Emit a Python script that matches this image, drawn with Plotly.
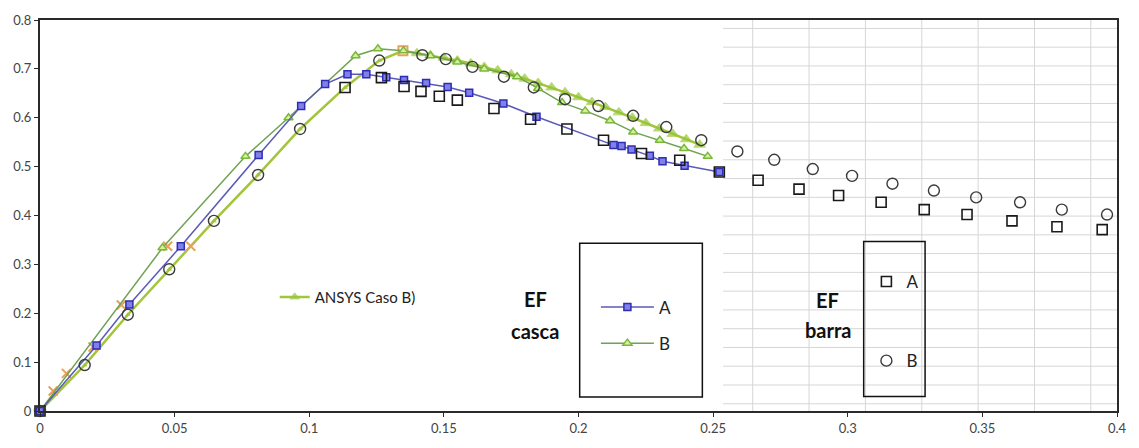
import plotly.graph_objects as go
import numpy as np

# ---------------- data ----------------
casca_A_x = [0, 0.021, 0.0332, 0.0523, 0.0812, 0.097, 0.1059, 0.1142, 0.1212, 0.1286, 0.1352,
             0.1434, 0.1514, 0.1594, 0.1721, 0.1844, 0.213, 0.216, 0.2197, 0.2265, 0.2312, 0.2394, 0.2523]
casca_A_y = [0, 0.134, 0.218, 0.337, 0.524, 0.624, 0.669, 0.689, 0.689, 0.683, 0.677,
             0.671, 0.663, 0.651, 0.629, 0.602, 0.544, 0.542, 0.535, 0.522, 0.511, 0.502, 0.489]

casca_B_x = [0, 0.0455, 0.0763, 0.0923, 0.1172, 0.1255, 0.135, 0.145, 0.155, 0.165, 0.1772, 0.185,
             0.1939, 0.2025, 0.2117, 0.2203, 0.2302, 0.2392, 0.248]
casca_B_y = [0, 0.334, 0.521, 0.600, 0.727, 0.741, 0.737, 0.727, 0.714, 0.700, 0.684, 0.660,
             0.631, 0.614, 0.594, 0.571, 0.554, 0.537, 0.521]

ansys_B_x = [0, 0.0166, 0.0326, 0.048, 0.0646, 0.081, 0.0966, 0.1133, 0.126, 0.1348,
             0.14, 0.145, 0.15, 0.155, 0.16, 0.165, 0.17, 0.175, 0.18, 0.185, 0.19, 0.195,
             0.2, 0.205, 0.21, 0.215, 0.22, 0.225, 0.23, 0.235, 0.24, 0.245]
ansys_B_y = [0, 0.094, 0.197, 0.29, 0.389, 0.483, 0.577, 0.662, 0.717, 0.737,
             0.732, 0.728, 0.723, 0.717, 0.711, 0.704, 0.697, 0.689, 0.680, 0.671, 0.662, 0.652,
             0.642, 0.632, 0.622, 0.611, 0.600, 0.589, 0.578, 0.567, 0.556, 0.545]

ansys_A_x = [0.0049, 0.0098, 0.0197, 0.0302, 0.0474, 0.056, 0.1348]
ansys_A_y = [0.041, 0.077, 0.131, 0.217, 0.337, 0.337, 0.737]

barra_A_x = [0, 0.1133, 0.1268, 0.1352, 0.1415, 0.1483, 0.155, 0.1686, 0.1822, 0.1957, 0.2093,
             0.2234, 0.2376, 0.2523, 0.2667, 0.2819, 0.2966, 0.3124, 0.3284, 0.3443, 0.361, 0.3777, 0.3945]
barra_A_y = [0, 0.662, 0.682, 0.664, 0.654, 0.644, 0.636, 0.619, 0.597, 0.577, 0.554,
             0.527, 0.513, 0.489, 0.472, 0.454, 0.441, 0.427, 0.412, 0.402, 0.389, 0.377, 0.371]

barra_B_x = [0, 0.0166, 0.0326, 0.048, 0.0646, 0.081, 0.0966, 0.126, 0.142, 0.1507, 0.1606, 0.1723,
             0.1834, 0.195, 0.2074, 0.2203, 0.2326, 0.2456, 0.259, 0.2727, 0.287, 0.3016, 0.3166,
             0.332, 0.3477, 0.364, 0.3795, 0.3963]
barra_B_y = [0, 0.094, 0.197, 0.29, 0.389, 0.483, 0.577, 0.717, 0.728, 0.72, 0.704, 0.684,
             0.662, 0.638, 0.624, 0.604, 0.581, 0.554, 0.531, 0.514, 0.495, 0.481, 0.465,
             0.451, 0.437, 0.427, 0.412, 0.402]

x_ticks = [0, 0.05, 0.1, 0.15, 0.2, 0.25, 0.3, 0.35, 0.4]
x_tick_text = ["0", "0.05", "0.1", "0.15", "0.2", "0.25", "0.3", "0.35", "0.4"]
y_ticks = [0, 0.1, 0.2, 0.3, 0.4, 0.5, 0.6, 0.7, 0.8]
y_tick_text = ["0", "0.1", "0.2", "0.3", "0.4", "0.5", "0.6", "0.7", "0.8"]

FONT = "Lato"
fig = go.Figure()

# ANSYS Caso B)
peak = max(ansys_B_y)
ip = ansys_B_y.index(peak)
ans_sizes = [4 if i <= ip else 10 for i in range(len(ansys_B_x))]
fig.add_trace(go.Scatter(
    x=ansys_B_x, y=ansys_B_y, mode="lines+markers", name="ANSYS Caso B)",
    line=dict(color="#a2c53c", width=2.5),
    marker=dict(symbol="triangle-up", size=ans_sizes, color="#92c83a"),
    legend="legend3", cliponaxis=False))

# ANSYS caso A (orange crosses)
fig.add_trace(go.Scatter(
    x=ansys_A_x, y=ansys_A_y, mode="markers", showlegend=False,
    marker=dict(symbol=["x-thin-open"] * (len(ansys_A_x) - 1) + ["square-open"], size=9,
                color="#e6a15a", line=dict(color="#e6a15a", width=2)),
    cliponaxis=False))

# EF casca B
fig.add_trace(go.Scatter(
    x=casca_B_x, y=casca_B_y, mode="lines+markers", name="B",
    line=dict(color="#6fa352", width=1.5),
    marker=dict(symbol="triangle-up", size=8, color="#d9ee9a", line=dict(color="#78b83c", width=1.5)),
    legend="legend", legendgroup="cB", legendrank=2, cliponaxis=False))

# EF casca A
fig.add_trace(go.Scatter(
    x=casca_A_x, y=casca_A_y, mode="lines+markers", name="A",
    line=dict(color="#5a5ab8", width=1.5),
    marker=dict(symbol="square", size=7, color="#8080e8", line=dict(color="#2d2db4", width=1.5)),
    legend="legend", legendgroup="cA", legendrank=1, cliponaxis=False))

# EF barra A / B
fig.add_trace(go.Scatter(
    x=barra_A_x, y=barra_A_y, mode="markers", name="A",
    marker=dict(symbol="square-open", size=10, color="#1a1a1a", line=dict(width=1.6)),
    legend="legend2", legendgroup="bA", cliponaxis=False))
fig.add_trace(go.Scatter(
    x=barra_B_x, y=barra_B_y, mode="markers", name="B",
    marker=dict(symbol="circle-open", size=11, color="#3a3a3a", line=dict(width=1.4)),
    legend="legend2", legendgroup="bB", cliponaxis=False))

# ---------------- decoration: spreadsheet grid on the right ----------------
shapes = []
GRID = "#d6d6d6"
for py in np.arange(25.6, 417, 19.2):
    yv = (417 - py) / 500
    shapes.append(dict(type="line", xref="x", yref="y", x0=0.2537, x1=0.4, y0=yv, y1=yv,
                       line=dict(color=GRID, width=1), layer="below"))
for xv in np.arange(0.2647, 0.4, 0.02093):
    shapes.append(dict(type="line", xref="x", yref="y", x0=xv, x1=xv, y0=0, y1=0.8,
                       line=dict(color=GRID, width=1), layer="below"))

# legend boxes
shapes.append(dict(type="rect", xref="paper", yref="paper", x0=0.5011, x1=0.615, y0=0.0358, y1=0.4293,
                   line=dict(color="#111", width=1.5)))
shapes.append(dict(type="rect", xref="paper", yref="paper", x0=0.7648, x1=0.8218, y0=0.0368, y1=0.4336,
                   line=dict(color="#111", width=1.5)))

annotations = []
def lab(text, px, py, size=20):
    annotations.append(dict(text=text, xref="paper", yref="paper",
                            x=(px - 40) / 1083, y=(417 - py) / 399, showarrow=False,
                            xanchor="center", yanchor="middle",
                            font=dict(family=FONT, size=size, color="#111", weight="bold")))
lab("EF", 538, 303)
lab("casca", 538, 335)
lab("EF", 832, 304)
lab("barra", 832, 334)

axis_common = dict(showline=True, linecolor="#2a2a2a", linewidth=2, mirror=True,
                   ticks="outside", ticklen=4, tickcolor="#2a2a2a", showgrid=False, zeroline=False,
                   tickfont=dict(family=FONT, size=13, color="#444"))

fig.update_layout(
    width=1139, height=448,
    margin=dict(l=40, r=16, t=18, b=31),
    paper_bgcolor="white", plot_bgcolor="white",
    xaxis=dict(range=[0, 0.4], tickvals=x_ticks, ticktext=x_tick_text, **axis_common),
    yaxis=dict(range=[0, 0.8], tickvals=y_ticks, ticktext=y_tick_text, **axis_common),
    shapes=shapes, annotations=annotations,
    legend=dict(x=(599 - 40) / 1083, y=(417 - 293) / 399, xanchor="left", yanchor="top",
                bgcolor="rgba(0,0,0,0)", itemwidth=53, tracegroupgap=11, traceorder="grouped",
                font=dict(family=FONT, size=17, color="#222")),
    legend2=dict(x=(871 - 40) / 1083, y=(417 - 267) / 399, xanchor="left", yanchor="top",
                 bgcolor="rgba(0,0,0,0)", tracegroupgap=54, traceorder="grouped",
                 font=dict(family=FONT, size=17, color="#222")),
    legend3=dict(x=(276 - 40) / 1083, y=(417 - 284) / 399, xanchor="left", yanchor="top",
                 bgcolor="rgba(0,0,0,0)",
                 font=dict(family=FONT, size=15, color="#222")),
)

fig.write_html("out.html")
